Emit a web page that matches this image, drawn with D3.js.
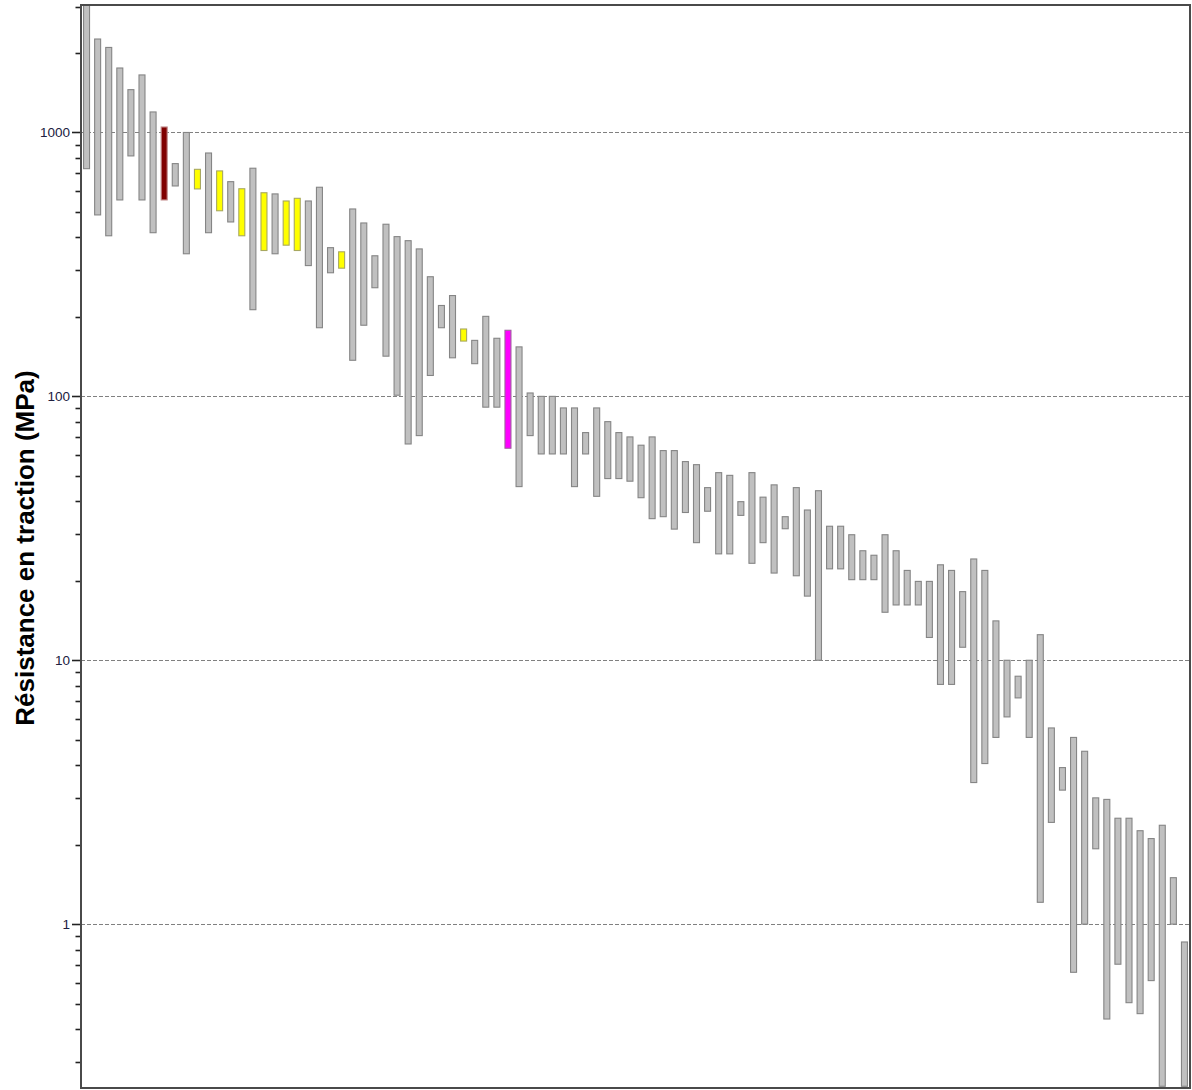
<!DOCTYPE html>
<html>
<head>
<meta charset="utf-8">
<script src="https://cdn.jsdelivr.net/npm/d3@7"></script>
<style>
  html, body { margin: 0; padding: 0; background: #fff; }
  svg { display: block; }
</style>
</head>
<body>
<svg id="chart" width="1192" height="1090"></svg>
<script>
// ---- data ----
const categories = d3.range(1, 101).map(String);
const highs = [3040, 2260, 2100, 1755, 1453, 1652, 1196, 1049, 762, 1000,
  725, 836, 715, 651, 612, 732, 591, 585, 550, 563,
  550, 620, 366, 353, 513, 454, 341, 449, 403, 389,
  362, 284, 221, 241, 180, 163, 201, 166, 178, 154,
  103, 100, 100, 90.4, 90.4, 72.9, 90.4, 80.2, 72.9, 70.2,
  65.3, 70.2, 62.3, 62.3, 56.6, 55.1, 45.1, 51.4, 50.2, 39.9,
  51.4, 41.5, 46.2, 35.0, 45.1, 37.1, 43.9, 32.2, 32.2, 29.9,
  26.0, 25.0, 29.9, 26.0, 21.9, 19.9, 19.9, 23.0, 21.9, 18.2,
  24.2, 21.9, 14.1, 10, 8.7, 10, 12.5, 5.54, 3.92, 5.1,
  4.52, 3.01, 2.97, 2.52, 2.52, 2.26, 2.11, 2.37, 1.50, 0.856];
const lows = [729, 487, 406, 555, 815, 555, 417, 555, 627, 347,
  611, 417, 505, 458, 406, 213, 357, 347, 374, 357,
  313, 182, 294, 306, 137, 186, 258, 142, 101, 66,
  71, 120, 182, 140, 162, 133, 91, 91, 63.6, 45.5,
  71, 60.5, 60.5, 60.5, 45.5, 60.5, 41.8, 48.8, 48.8, 47.7,
  41.3, 34.4, 35.0, 31.4, 36.3, 27.9, 36.7, 25.3, 25.3, 35.4,
  23.3, 27.9, 21.4, 31.5, 20.9, 17.5, 10, 22.2, 22.2, 20.2,
  20.2, 20.2, 15.2, 16.2, 16.2, 16.2, 12.2, 8.1, 8.1, 11.2,
  3.44, 4.06, 5.1, 6.1, 7.2, 5.1, 1.21, 2.43, 3.22, 0.657,
  1.0, 1.93, 0.437, 0.705, 0.504, 0.458, 0.611, 0.243, 1.0, 0.243];
const groups = categories.map((c, i) => {
  const n = i + 1;
  if (n === 8) return "darkred";
  if (n === 39) return "magenta";
  if ([11, 13, 15, 17, 19, 20, 24, 35].includes(n)) return "yellow";
  return "grey";
});
const majorTicks = [1, 10, 100, 1000];
const majorLabels = ["1", "10", "100", "1000"];
const yTitle = "Résistance en traction (MPa)";

// ---- styles ----
const fills = { grey: "#c0c0c0", darkred: "#800000", yellow: "#ffff00", magenta: "#ff00ff" };
const strokes = { grey: "#858585", darkred: "#c08888", yellow: "#a8a860", magenta: "#a060a0" };

const L = 81, R = 1190, T = 5, B = 1088;
const svg = d3.select("#chart");

const y = d3.scaleLog().domain([0.2394, 3041]).range([B, T]);
const x = d3.scaleBand().domain(categories).range([L, R]).paddingInner(0.46).paddingOuter(0.23);

// minor ticks
const minor = [];
for (let e = -1; e <= 3; e++) {
  for (let m = 2; m <= 9; m++) {
    const v = m * Math.pow(10, e);
    if (v >= y.domain()[0] && v <= y.domain()[1]) minor.push(v);
  }
}

// gridlines
svg.append("g").selectAll("line").data(majorTicks).join("line")
  .attr("x1", L).attr("x2", R)
  .attr("y1", d => Math.round(y(d)) + 0.5).attr("y2", d => Math.round(y(d)) + 0.5)
  .attr("stroke", "#808080").attr("stroke-width", 1).attr("stroke-dasharray", "4,2");

// bars
svg.append("g").selectAll("rect").data(categories).join("rect")
  .attr("x", d => x(d))
  .attr("width", x.bandwidth())
  .attr("y", (d, i) => y(highs[i]))
  .attr("height", (d, i) => y(lows[i]) - y(highs[i]))
  .attr("fill", (d, i) => fills[groups[i]])
  .attr("stroke", (d, i) => strokes[groups[i]])
  .attr("stroke-width", 1.1);

// axis ticks
const ax = svg.append("g");
ax.selectAll("line.major").data(majorTicks).join("line").attr("class", "major")
  .attr("x1", L - 9).attr("x2", L)
  .attr("y1", d => Math.round(y(d)) + 0.5).attr("y2", d => Math.round(y(d)) + 0.5)
  .attr("stroke", "#222").attr("stroke-width", 1.6);
ax.selectAll("line.minor").data(minor).join("line").attr("class", "minor")
  .attr("x1", L - 5.5).attr("x2", L)
  .attr("y1", d => Math.round(y(d)) + 0.5).attr("y2", d => Math.round(y(d)) + 0.5)
  .attr("stroke", "#222").attr("stroke-width", 1.6);
ax.selectAll("text").data(majorTicks).join("text")
  .attr("x", L - 11).attr("y", d => y(d))
  .attr("dy", "0.36em")
  .attr("text-anchor", "end")
  .attr("font-family", "Liberation Sans, Arial, sans-serif")
  .attr("font-size", 13.5)
  .attr("fill", "#202040")
  .text((d, i) => majorLabels[i]);

// frame
svg.append("rect")
  .attr("x", L).attr("y", T).attr("width", R - L).attr("height", B - T)
  .attr("fill", "none").attr("stroke", "#4a4a4a").attr("stroke-width", 2);

// y title
svg.append("text")
  .attr("transform", `translate(34,548) rotate(-90)`)
  .attr("text-anchor", "middle")
  .attr("font-family", "Liberation Sans, Arial, sans-serif")
  .attr("font-weight", "bold")
  .attr("font-size", 26)
  .attr("fill", "#000")
  .text(yTitle);
</script>
</body>
</html>
